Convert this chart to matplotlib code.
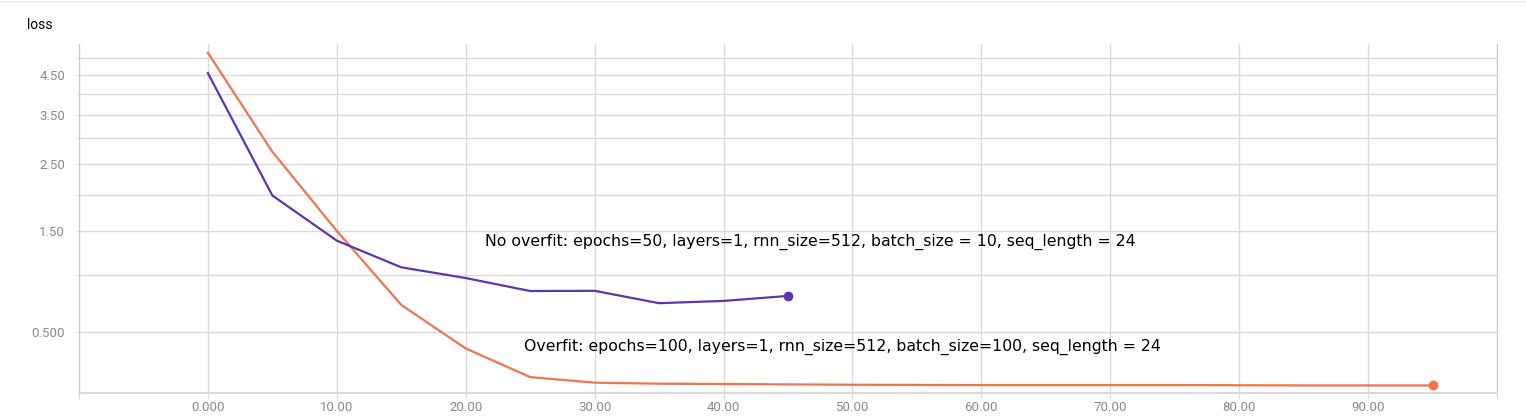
import numpy as np
import matplotlib
matplotlib.use("Agg")
import matplotlib.pyplot as plt

# Loss curves
epochs_no_overfit = [0, 5, 10, 15, 20, 25, 30, 35, 40, 45]
loss_no_overfit = [4.55, 1.99, 1.38, 1.08, 0.97, 0.845, 0.847, 0.735, 0.755, 0.80]

epochs_overfit = [0, 5, 10, 15, 20, 25, 30, 35, 40, 45, 50, 55, 60, 65,
                  70, 75, 80, 85, 90, 95]
loss_overfit = [5.15, 2.73, 1.50, 0.72, 0.380, 0.194, 0.161, 0.155, 0.153,
                0.151, 0.149, 0.148, 0.147, 0.147, 0.147, 0.147, 0.146,
                0.145, 0.145, 0.145]

x_ticks = [-10, 0, 10, 20, 30, 40, 50, 60, 70, 80, 90, 100]
x_labels = ["", "0.000", "10.00", "20.00", "30.00", "40.00", "50.00",
            "60.00", "70.00", "80.00", "90.00", ""]
y_ticks = [0.5, 1.0, 1.5, 2.0, 2.5, 3.0, 3.5, 4.0, 4.5, 5.0]
y_labels = ["0.500", "", "1.50", "", "2.50", "", "3.50", "", "4.50", ""]

label_no_overfit = "No overfit: epochs=50, layers=1, rnn_size=512, batch_size = 10, seq_length = 24"
label_overfit = "Overfit: epochs=100, layers=1, rnn_size=512, batch_size=100, seq_length = 24"

PURPLE = "#5e35b1"
ORANGE = "#f2744a"
GRID = "#dadada"

fig = plt.figure(figsize=(15.26, 4.17), dpi=100)
ax = fig.add_axes([79 / 1526, 24 / 417, (1497 - 79) / 1526, (393 - 44) / 417])

# TensorBoard "log" axis behaves like log(1 + y)
ax.set_yscale("function", functions=(np.log1p, np.expm1))

ax.plot(epochs_overfit, loss_overfit, color=ORANGE, lw=1.6, zorder=3)
ax.plot(epochs_overfit[-1:], loss_overfit[-1:], "o", color=ORANGE, ms=6, zorder=4)
ax.plot(epochs_no_overfit, loss_no_overfit, color=PURPLE, lw=1.6, zorder=3)
ax.plot(epochs_no_overfit[-1:], loss_no_overfit[-1:], "o", color=PURPLE, ms=6, zorder=4)

ax.set_xlim(-10, 100)
ax.set_ylim(0.102, 5.43)

ax.set_xticks(x_ticks)
ax.set_xticklabels(x_labels)
ax.set_yticks(y_ticks)
ax.set_yticklabels(y_labels)
ax.yaxis.set_minor_locator(matplotlib.ticker.NullLocator())

ax.grid(True, color=GRID, lw=1.0)
ax.set_axisbelow(True)

for lab in ax.get_xticklabels() + ax.get_yticklabels():
    lab.set_fontfamily("Roboto")
    lab.set_color("#8a8a8a")
    lab.set_fontsize(9.5)

ax.tick_params(axis="x", length=4, color=GRID, pad=2)
ax.tick_params(axis="y", length=2, color=GRID, pad=8)

ax.spines["top"].set_visible(False)
ax.spines["right"].set_color("#c8c8c8")
ax.spines["left"].set_color("#c8c8c8")
ax.spines["bottom"].set_color(GRID)
ax.spines["bottom"].set_linewidth(1.5)

ax.text(21.5, 1.36, label_no_overfit, fontsize=11.3, va="center", ha="left")
ax.text(24.5, 0.39, label_overfit, fontsize=11.3, va="center", ha="left")

fig.text(27 / 1526, 1 - 25 / 417, "loss", family="Roboto", fontsize=10,
         va="center", ha="left")

# faint page border at the top
fig.add_artist(plt.Line2D([0, 1], [1 - 2 / 417, 1 - 2 / 417], color="#efefef", lw=1.5))

fig.savefig("out.png", dpi=100, facecolor="white")
